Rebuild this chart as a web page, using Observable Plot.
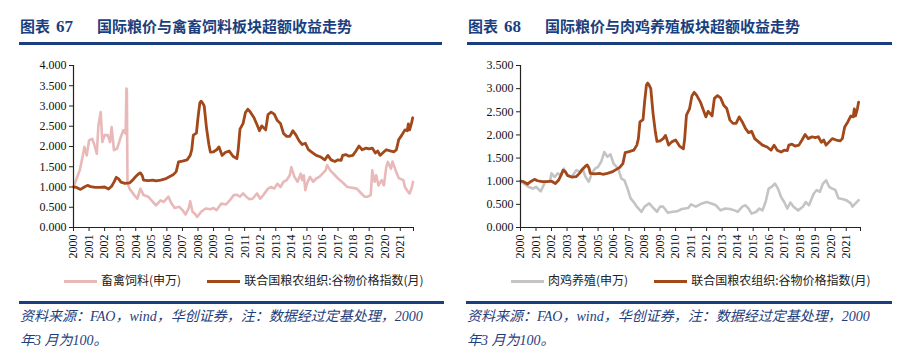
<!DOCTYPE html>
<html><head><meta charset="utf-8">
<script src="https://cdn.jsdelivr.net/npm/d3@7"></script>
<script src="https://cdn.jsdelivr.net/npm/@observablehq/plot@0.6"></script>
<style>
body{margin:0;background:#fff;width:900px;height:359px;position:relative;overflow:hidden;}
.panel{position:absolute;top:0;width:450px;height:359px;}
.title{position:absolute;top:15px;font-family:"Noto Sans CJK SC",sans-serif;font-weight:700;font-size:15px;color:#1b3f7e;white-space:nowrap;}
.title .num{font-family:"Liberation Serif",serif;font-size:17px;margin-left:6px;margin-right:24px;}
.rule{position:absolute;height:3px;background:#1b3f7e;}
.chart{position:absolute;top:55px;left:0;}
.legend{position:absolute;top:271px;font-family:"Noto Sans CJK SC",serif;font-size:12px;color:#222;white-space:nowrap;}
.legend span.sw{display:inline-block;width:33px;height:3px;vertical-align:middle;margin-right:4px;}
.legend span.it{margin-right:26px;}
.caption{position:absolute;top:305px;font-family:"Liberation Serif","Noto Sans CJK SC",serif;font-style:italic;font-size:14px;line-height:24px;color:#1f3e7c;white-space:nowrap;}
</style></head>
<body>
<div class="panel" id="p1" style="left:0">
  <div class="title" style="left:20px">图表<span class="num">67</span>国际粮价与禽畜饲料板块超额收益走势</div>
  <div class="rule" style="left:19px;top:42px;width:423px"></div>
  <div class="chart" id="c1"></div>
  <div class="legend" style="left:64px"><span class="sw" style="background:#e9b9b9"></span><span class="it">畜禽饲料(申万)</span><span class="sw" style="background:#a2481a"></span><span>联合国粮农组织:谷物价格指数(月)</span></div>
  <div class="rule" style="left:19px;top:301px;width:425px"></div>
  <div class="caption" style="left:20px">资料来源：FAO，wind，华创证券，注：数据经过定基处理，2000<br>年3 月为100。</div>
</div>
<div class="panel" id="p2" style="left:450px">
  <div class="title" style="left:18px">图表<span class="num">68</span>国际粮价与肉鸡养殖板块超额收益走势</div>
  <div class="rule" style="left:17px;top:42px;width:425px"></div>
  <div class="chart" id="c2"></div>
  <div class="legend" style="left:61px"><span class="sw" style="background:#c4c4c4"></span><span class="it">肉鸡养殖(申万)</span><span class="sw" style="background:#a2481a"></span><span>联合国粮农组织:谷物价格指数(月)</span></div>
  <div class="rule" style="left:16px;top:301px;width:426px"></div>
  <div class="caption" style="left:17px">资料来源：FAO，wind，华创证券，注：数据经过定基处理，2000<br>年3 月为100。</div>
</div>
<script>
const yearTicks = d3.range(2000, 2022);
const yTicksLeft = [0,0.5,1,1.5,2,2.5,3,3.5,4];
const yTicksRight = [0,0.5,1,1.5,2,2.5,3,3.5];

const cerealT = [2000.0,2000.2,2000.45,2000.7,2000.9,2001.1,2001.4,2001.7,2002.0,2002.25,2002.45,2002.6,2002.75,2002.9,2003.05,2003.3,2003.6,2003.8,2004.0,2004.2,2004.3,2004.42,2004.5,2004.8,2005.1,2005.3,2005.6,2005.9,2006.1,2006.4,2006.6,2006.75,2007.0,2007.3,2007.5,2007.6,2007.7,2007.9,2008.0,2008.12,2008.2,2008.3,2008.4,2008.55,2008.7,2008.8,2009.0,2009.2,2009.35,2009.55,2009.75,2010.0,2010.25,2010.5,2010.58,2010.7,2010.9,2011.05,2011.2,2011.35,2011.6,2011.8,2011.95,2012.1,2012.35,2012.5,2012.7,2012.9,2013.1,2013.3,2013.5,2013.7,2013.9,2014.1,2014.3,2014.5,2014.7,2014.9,2015.1,2015.35,2015.6,2015.9,2016.15,2016.35,2016.55,2016.8,2017.0,2017.2,2017.3,2017.5,2017.7,2017.95,2018.15,2018.35,2018.55,2018.8,2019.0,2019.2,2019.4,2019.55,2019.7,2019.9,2020.1,2020.35,2020.6,2020.75,2020.9,2021.1,2021.3,2021.45,2021.52,2021.6,2021.72,2021.8];
const cerealV = [1.00,0.99,0.94,1.00,1.04,1.01,0.99,0.99,1.00,0.95,1.02,1.12,1.24,1.20,1.12,1.09,1.10,1.17,1.26,1.33,1.35,1.28,1.17,1.16,1.17,1.15,1.17,1.20,1.24,1.30,1.38,1.62,1.64,1.67,1.78,1.92,2.28,2.33,2.71,3.08,3.12,3.07,3.00,2.45,2.05,1.86,1.87,1.92,1.99,1.78,1.85,1.89,1.76,1.70,1.90,2.43,2.57,2.84,2.92,2.86,2.71,2.53,2.39,2.51,2.41,2.79,2.85,2.80,2.64,2.57,2.32,2.25,2.25,2.39,2.28,2.14,2.05,2.08,1.92,1.85,1.78,1.74,1.67,1.78,1.67,1.63,1.67,1.66,1.78,1.80,1.76,1.78,1.89,2.01,1.92,1.96,1.94,1.96,1.84,1.89,1.78,1.85,1.92,1.89,1.87,1.92,2.17,2.28,2.41,2.39,2.56,2.41,2.57,2.71];

const feedT = [2000.0,2000.2,2000.4,2000.6,2000.7,2000.85,2001.0,2001.2,2001.35,2001.5,2001.6,2001.75,2001.85,2002.0,2002.2,2002.35,2002.45,2002.6,2002.8,2003.0,2003.2,2003.35,2003.4,2003.43,2003.47,2003.6,2003.9,2004.1,2004.3,2004.5,2004.8,2005.1,2005.3,2005.6,2005.8,2006.1,2006.3,2006.5,2006.8,2007.0,2007.2,2007.4,2007.5,2007.65,2007.8,2007.95,2008.2,2008.5,2008.8,2009.0,2009.2,2009.5,2009.8,2010.0,2010.3,2010.5,2010.7,2010.9,2011.1,2011.3,2011.5,2011.8,2012.0,2012.2,2012.5,2012.7,2012.9,2013.1,2013.3,2013.5,2013.7,2013.9,2014.0,2014.2,2014.4,2014.6,2014.7,2014.8,2014.9,2015.0,2015.2,2015.4,2015.6,2015.8,2016.0,2016.2,2016.3,2016.5,2016.8,2017.0,2017.3,2017.6,2017.9,2018.2,2018.5,2018.7,2018.9,2019.1,2019.2,2019.35,2019.45,2019.6,2019.8,2019.95,2020.1,2020.2,2020.4,2020.5,2020.7,2020.9,2021.2,2021.3,2021.5,2021.6,2021.75,2021.82];
const feedV = [1.00,1.21,1.41,1.78,1.99,1.78,2.15,2.19,2.03,1.82,2.52,2.85,2.11,2.28,2.28,2.11,2.48,1.91,1.95,2.19,2.40,2.32,3.43,3.40,1.10,0.96,0.80,0.71,0.96,0.80,0.76,0.63,0.55,0.67,0.63,0.76,0.59,0.48,0.51,0.43,0.32,0.47,0.65,0.39,0.34,0.26,0.39,0.47,0.45,0.48,0.43,0.59,0.57,0.65,0.80,0.81,0.76,0.84,0.76,0.70,0.71,0.84,0.71,0.80,0.96,1.00,0.96,1.08,1.00,1.13,1.17,1.29,1.49,1.25,1.13,1.33,1.17,1.29,0.92,1.08,1.25,1.13,1.21,1.25,1.33,1.41,1.54,1.41,1.29,1.21,1.11,1.00,0.98,0.96,0.84,0.76,0.76,0.80,1.41,1.13,1.29,1.04,1.17,1.04,1.49,1.62,1.45,1.63,1.41,1.22,1.17,1.00,0.88,0.84,1.00,1.13];

const chickenT = [2000.0,2000.5,2000.8,2001.0,2001.3,2001.6,2001.9,2002.0,2002.2,2002.4,2002.6,2002.8,2003.0,2003.3,2003.6,2003.8,2004.0,2004.2,2004.4,2004.6,2004.8,2005.0,2005.2,2005.4,2005.6,2005.8,2006.0,2006.3,2006.5,2006.7,2006.9,2007.1,2007.3,2007.5,2007.8,2008.0,2008.3,2008.6,2008.8,2009.0,2009.2,2009.5,2009.8,2010.1,2010.4,2010.8,2011.0,2011.3,2011.7,2012.0,2012.3,2012.6,2012.9,2013.2,2013.5,2013.8,2014.0,2014.3,2014.5,2014.7,2014.9,2015.2,2015.4,2015.6,2015.8,2016.0,2016.2,2016.4,2016.6,2016.8,2017.0,2017.2,2017.4,2017.6,2017.9,2018.2,2018.4,2018.6,2018.9,2019.1,2019.3,2019.5,2019.7,2019.9,2020.1,2020.3,2020.5,2020.8,2021.0,2021.3,2021.4,2021.6,2021.8];
const chickenV = [1.00,0.88,0.84,0.88,0.78,0.99,1.00,1.17,1.09,1.17,1.13,1.27,1.13,1.09,1.24,1.20,1.27,1.09,0.99,1.17,1.27,1.31,1.42,1.63,1.53,1.58,1.38,1.27,1.06,1.02,0.84,0.63,0.55,0.45,0.34,0.45,0.52,0.41,0.34,0.45,0.45,0.32,0.34,0.35,0.40,0.42,0.50,0.45,0.52,0.55,0.52,0.48,0.37,0.41,0.40,0.37,0.34,0.45,0.48,0.41,0.30,0.34,0.41,0.37,0.55,0.84,0.88,0.95,0.84,0.66,0.55,0.41,0.54,0.45,0.37,0.45,0.55,0.48,0.73,0.81,0.77,0.95,1.02,0.88,0.84,0.81,0.63,0.61,0.59,0.52,0.45,0.52,0.59];

const cereal = cerealT.map((t,i)=>({t, v: cerealV[i]}));
const feed = feedT.map((t,i)=>({t, v: feedV[i]}));
const chicken = chickenT.map((t,i)=>({t, v: chickenV[i]}));

const BROWN = "#a2481a", PINK = "#e9b9b9", GRAY = "#c4c4c4";

function makeChart(other, otherColor, yMax, yTicks, ml, mr, xEnd) {
  return Plot.plot({
    width: 450, height: 212,
    marginTop: 10, marginBottom: 40, marginLeft: ml, marginRight: mr,
    style: {fontFamily: "'Liberation Serif', serif", fontSize: "12px", color: "#111", overflow: "visible"},
    x: {domain: [2000, xEnd], axis: null},
    y: {domain: [0, yMax], axis: null},
    marks: [
      Plot.axisY({ticks: yTicks, tickFormat: d3.format(".3f"), tickSize: 4, tickPadding: 3, stroke: "#222", fontSize: 12, label: null}),
      Plot.axisX({ticks: [...yearTicks, xEnd], tickFormat: d => Number.isInteger(d) ? String(d) : "", tickRotate: -90, tickSize: 4, tickPadding: 3, stroke: "#222", fontSize: 12, label: null}),
      Plot.line(other, {x: "t", y: "v", stroke: otherColor, strokeWidth: 2.6, curve: "linear"}),
      Plot.line(cereal, {x: "t", y: "v", stroke: BROWN, strokeWidth: 2.8, curve: "linear"}),
      Plot.ruleX([2000], {stroke: "#222", strokeWidth: 1.2}),
      Plot.ruleY([0], {stroke: "#222", strokeWidth: 1.2})
    ]
  });
}

document.getElementById("c1").append(makeChart(feed, PINK, 4, yTicksLeft, 73, 37, 2021.85));
document.getElementById("c2").append(makeChart(chicken, GRAY, 3.5, yTicksRight, 70, 40, 2021.92));
</script>
</body></html>
